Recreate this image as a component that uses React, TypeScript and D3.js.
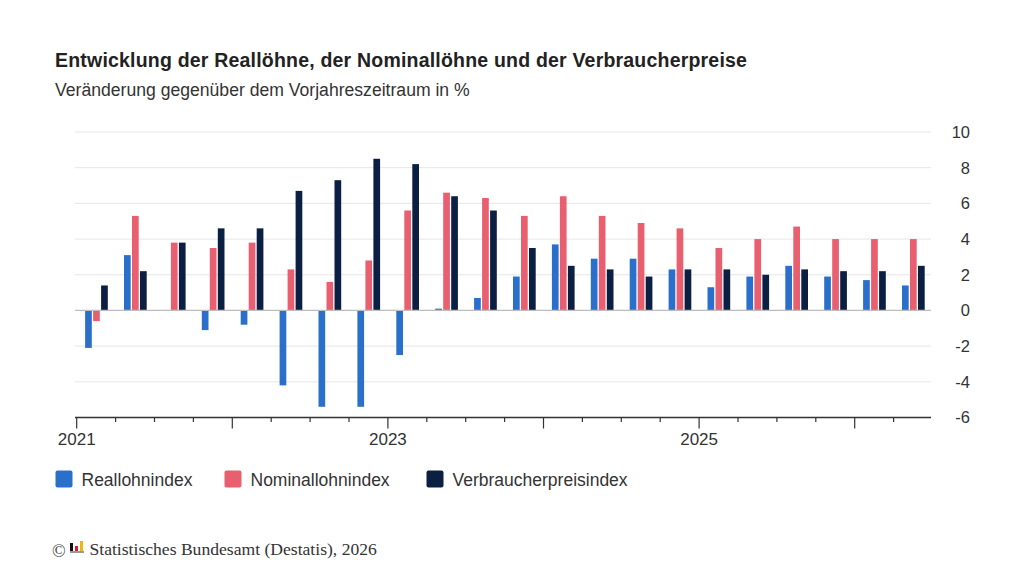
import React from "react";
import * as d3 from "d3";

const quarters = [
  "2021Q1","2021Q2","2021Q3","2021Q4",
  "2022Q1","2022Q2","2022Q3","2022Q4",
  "2023Q1","2023Q2","2023Q3","2023Q4",
  "2024Q1","2024Q2","2024Q3","2024Q4",
  "2025Q1","2025Q2","2025Q3","2025Q4",
  "2026Q1","2026Q2",
];
const reallohn = [-2.1, 3.1, 0, -1.1, -0.8, -4.2, -5.4, -5.4, -2.5, 0.1, 0.7, 1.9, 3.7, 2.9, 2.9, 2.3, 1.3, 1.9, 2.5, 1.9, 1.7, 1.4];
const nominallohn = [-0.6, 5.3, 3.8, 3.5, 3.8, 2.3, 1.6, 2.8, 5.6, 6.6, 6.3, 5.3, 6.4, 5.3, 4.9, 4.6, 3.5, 4.0, 4.7, 4.0, 4.0, 4.0];
const vpi = [1.4, 2.2, 3.8, 4.6, 4.6, 6.7, 7.3, 8.5, 8.2, 6.4, 5.6, 3.5, 2.5, 2.3, 1.9, 2.3, 2.3, 2.0, 2.3, 2.2, 2.2, 2.5];
const seriesNames = ["Reallohnindex", "Nominallohnindex", "Verbraucherpreisindex"];
const seriesColors = ["#2a70cb", "#e8606f", "#0b1f42"];
const yTicks = [-6, -4, -2, 0, 2, 4, 6, 8, 10];

const title = "Entwicklung der Reallöhne, der Nominallöhne und der Verbraucherpreise";
const subtitle = "Veränderung gegenüber dem Vorjahreszeitraum in %";
const source = "Statistisches Bundesamt (Destatis), 2026";

export default function App() {
  const W = 1024, H = 576;
  const font = "'Liberation Sans', Arial, Helvetica, sans-serif";
  const serif = "'Liberation Serif', 'Times New Roman', serif";
  const x = d3.scaleLinear().domain([0, quarters.length]).range([76.7, 932.5]);
  const y = d3.scaleLinear().domain([-6, 10]).range([417.5, 132]);
  const inner = d3.scaleBand<number>().domain([0, 1, 2]).range([8.4, 32.4]);
  const barW = inner.bandwidth() - 1.3;
  const series = [reallohn, nominallohn, vpi];
  const plotL = 75, plotR = 931;
  const axisY = y(-6);

  return (
    <svg width={W} height={H} style={{ display: "block", position: "absolute", left: 0, top: 0 }} fontFamily={font}>
      <rect width={W} height={H} fill="#ffffff" />
      <text x={55} y={67} fontSize={19.5} letterSpacing={0.2} fontWeight="bold" fill="#222">{title}</text>
      <text x={55} y={96} fontSize={17.6} fill="#333">{subtitle}</text>

      {yTicks.filter(t => t !== -6 && t !== 0).map(t => (
        <line key={t} x1={plotL} x2={plotR} y1={y(t)} y2={y(t)} stroke="#e6e6e6" strokeWidth={1} />
      ))}
      {yTicks.map(t => (
        <text key={"yl" + t} x={970} y={y(t)} dy="0.36em" textAnchor="end" fontSize={16.5} fill="#333">{t}</text>
      ))}

      {series.map((vals, k) => (
        <g key={k} fill={seriesColors[k]}>
          {vals.map((v, i) => {
            const x0 = x(i) + (inner(k) as number);
            const y0 = Math.min(y(v), y(0));
            const h = Math.abs(y(v) - y(0));
            return h > 0 ? <rect key={i} x={x0} y={y0} width={barW} height={h} /> : null;
          })}
        </g>
      ))}

      <line x1={plotL} x2={plotR} y1={y(0)} y2={y(0)} stroke="#bdbdbd" strokeWidth={1.2} />

      <line x1={plotL} x2={plotR} y1={axisY} y2={axisY} stroke="#333" strokeWidth={1.3} />
      {quarters.map((q, i) => {
        const major = q.endsWith("Q1");
        return (
          <line key={"t" + i} x1={x(i)} x2={x(i)} y1={axisY} y2={axisY + (major ? 11 : 4.5)} stroke="#333" strokeWidth={1.2} />
        );
      })}
      {quarters.map((q, i) => {
        const yr = +q.slice(0, 4);
        return q.endsWith("Q1") && yr % 2 === 1 ? (
          <text key={"xl" + i} x={x(i)} y={445} textAnchor="middle" fontSize={17} fill="#333">{q.slice(0, 4)}</text>
        ) : null;
      })}

      {seriesNames.map((name, k) => {
        const lx = [55.5, 224.5, 426.5][k];
        return (
          <g key={name}>
            <rect x={lx} y={470.5} width={17} height={17} rx={2} fill={seriesColors[k]} />
            <text x={lx + 26} y={486} fontSize={17.5} fill="#333">{name}</text>
          </g>
        );
      })}

      <text x={52} y={557} fontSize={18} fontFamily={serif} fill="#444">©</text>
      <g>
        <rect x={70} y={543} width={3} height={8} fill="#111" />
        <rect x={75} y={546} width={3} height={5} fill="#d0202a" />
        <rect x={80} y={541} width={3} height={10} fill="#f2b705" />
        <rect x={70} y={551} width={14} height={2} fill="#999" />
      </g>
      <text x={89.5} y={554.5} fontSize={17.6} fontFamily={serif} fill="#333">{source}</text>
    </svg>
  );
}
